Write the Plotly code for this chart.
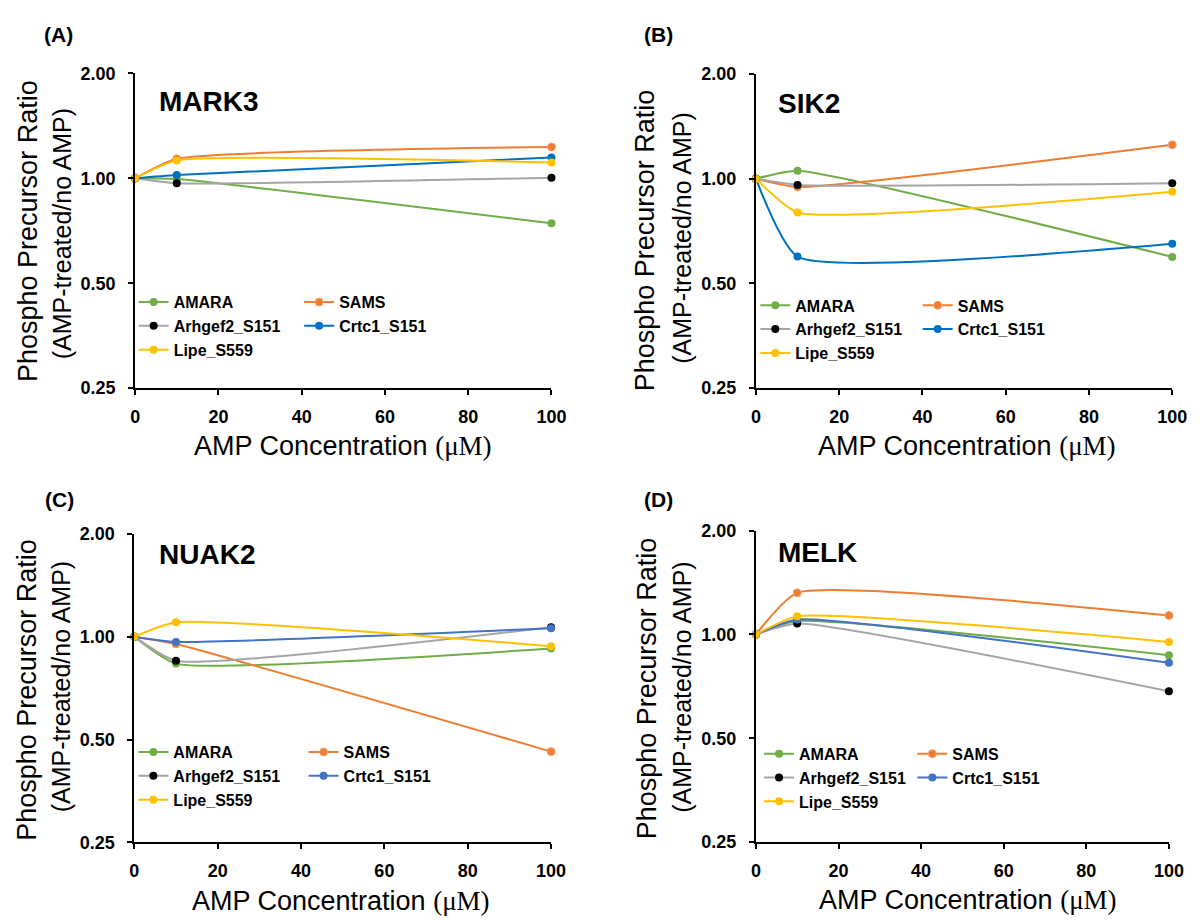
import plotly.graph_objects as go

# ---------------- data ----------------
amp_conc = [0, 10, 100]
series_names = ["AMARA", "SAMS", "Arhgef2_S151", "Crtc1_S151", "Lipe_S559"]
panel_labels = ["(A)", "(B)", "(C)", "(D)"]
kinases = ["MARK3", "SIK2", "NUAK2", "MELK"]

mark3_amara = [1.00, 0.995, 0.743]
mark3_sams = [1.00, 1.138, 1.230]
mark3_arhgef2 = [1.00, 0.968, 1.004]
mark3_crtc1 = [1.00, 1.022, 1.148]
mark3_lipe = [1.00, 1.126, 1.111]

sik2_amara = [1.00, 1.055, 0.596]
sik2_sams = [1.00, 0.947, 1.252]
sik2_arhgef2 = [1.00, 0.960, 0.970]
sik2_crtc1 = [1.00, 0.597, 0.650]
sik2_lipe = [1.00, 0.800, 0.917]

nuak2_amara = [1.00, 0.834, 0.924]
nuak2_sams = [1.00, 0.952, 0.461]
nuak2_arhgef2 = [1.00, 0.850, 1.066]
nuak2_crtc1 = [1.00, 0.965, 1.059]
nuak2_lipe = [1.00, 1.102, 0.938]

melk_amara = [1.00, 1.093, 0.870]
melk_sams = [1.00, 1.320, 1.135]
melk_arhgef2 = [1.00, 1.075, 0.684]
melk_crtc1 = [1.00, 1.105, 0.827]
melk_lipe = [1.00, 1.128, 0.951]

y_tick_vals = [0.25, 0.5, 1.0, 2.0]
y_tick_text = ["0.25", "0.50", "1.00", "2.00"]
x_tick_vals = [0, 20, 40, 60, 80, 100]

panel_data = [
    [mark3_amara, mark3_sams, mark3_arhgef2, mark3_crtc1, mark3_lipe],
    [sik2_amara, sik2_sams, sik2_arhgef2, sik2_crtc1, sik2_lipe],
    [nuak2_amara, nuak2_sams, nuak2_arhgef2, nuak2_crtc1, nuak2_lipe],
    [melk_amara, melk_sams, melk_arhgef2, melk_crtc1, melk_lipe],
]

# ---------------- styling / layout ----------------
W, H = 1200, 920
FONT = "Liberation Sans, Arial, sans-serif"


def px(x):
    return x / W


def py(y):
    return 1 - y / H


line_colors_ab = ["#70AD47", "#ED7D31", "#A5A5A5", "#0070C0", "#FFC000"]
line_colors_cd = ["#70AD47", "#ED7D31", "#A5A5A5", "#4472C4", "#FFC000"]
marker_colors_ab = ["#70AD47", "#ED7D31", "#000000", "#0070C0", "#FFC000"]
marker_colors_cd = ["#70AD47", "#ED7D31", "#000000", "#4472C4", "#FFC000"]

# plot-area rectangles in pixels: (left, right, top, bottom)
panel_rects = [
    (124.2, 547.6, 56.7, 378.3),
    (755.5, 1178.9, 57.3, 378.3),
    (123.4, 547.2, 527.3, 842.7),
    (755.5, 1175.5, 524.0, 842.3),
]
# legend text-start x positions (col1, col2) and first-row centre y
legend_pos = [
    (162.7, 331.0, 290.0),
    (794.9, 960.0, 293.3),
    (162.4, 335.5, 750.0),
    (798.7, 954.6, 751.7),
]
label_pos = [(29, 17), (640, 17), (30, 492), (640, 492)]
kinase_pos = [(146, 85), (776, 87), (146, 548), (776, 546)]
xtitle_pos = [(336, 438), (970, 438), (334, 903), (971, 902)]
ytitle_pos = [((16, 218), (50, 221)), ((643, 227), (680, 225)),
              ((14, 687), (49, 684)), ((645, 685), (680, 684))]

fig = go.Figure()
annotations = []
layout_upd = {}

for p in range(4):
    xa = "x" if p == 0 else f"x{p+1}"
    ya = "y" if p == 0 else f"y{p+1}"
    lc = line_colors_ab if p < 2 else line_colors_cd
    mc = marker_colors_ab if p < 2 else marker_colors_cd
    leg1 = f"legend{2*p+1}" if p > 0 else "legend"
    leg2 = f"legend{2*p+2}"
    for i, name in enumerate(series_names):
        col2 = i in (1, 3)
        fig.add_trace(go.Scatter(
            x=amp_conc, y=panel_data[p][i], name=name,
            mode="lines+markers",
            line=dict(color=lc[i], width=2, shape="spline", smoothing=0.5),
            marker=dict(color=mc[i], size=8,
                        line=dict(width=1, color="#F4A47C") if i == 1 else dict(width=0)),
            xaxis=xa, yaxis=ya, cliponaxis=False,
            legend=leg2 if col2 else leg1,
            showlegend=True,
        ))

    l, r, t, b = panel_rects[p]
    xkey = "xaxis" if p == 0 else f"xaxis{p+1}"
    ykey = "yaxis" if p == 0 else f"yaxis{p+1}"
    layout_upd[xkey] = dict(
        domain=[px(l), px(r)], anchor=ya, range=[0, 100],
        tickvals=x_tick_vals, ticks="outside", ticklen=5, tickwidth=1.5,
        tickcolor="black", showline=True, linewidth=2, linecolor="black",
        showgrid=False, zeroline=False, ticklabelstandoff=6,
        tickfont=dict(family=FONT, size=18, color="black", weight="bold"),
    )
    layout_upd[ykey] = dict(
        domain=[py(b), py(t)], anchor=xa, type="log",
        range=[-0.60206, 0.30103],
        tickvals=y_tick_vals, ticktext=y_tick_text,
        ticks="outside", ticklen=5, tickwidth=1.5, tickcolor="black",
        showline=True, linewidth=2, linecolor="black",
        showgrid=False, zeroline=False, ticklabelstandoff=9,
        tickfont=dict(family=FONT, size=18, color="black", weight="bold"),
    )

    c1x, c2x, row1 = legend_pos[p]
    for key, tx in ((leg1, c1x), (leg2, c2x)):
        layout_upd[key] = dict(
            x=px(tx - 40), xanchor="left", y=py(row1 - 16.9), yanchor="top",
            orientation="v", bgcolor="rgba(0,0,0,0)", borderwidth=0,
            itemwidth=30, tracegroupgap=0,
            font=dict(family=FONT, size=16, color="black", weight="bold"),
        )

    lx, ly = label_pos[p]
    annotations.append(dict(text=f"<b>{panel_labels[p]}</b>", x=px(lx), y=py(ly),
                            xref="paper", yref="paper", xanchor="left", yanchor="middle",
                            showarrow=False, font=dict(family=FONT, size=21, color="black")))
    kx, ky = kinase_pos[p]
    annotations.append(dict(text=f"<b>{kinases[p]}</b>", x=px(kx), y=py(ky),
                            xref="paper", yref="paper", xanchor="left", yanchor="middle",
                            showarrow=False, font=dict(family=FONT, size=28, color="black")))
    tx, ty = xtitle_pos[p]
    annotations.append(dict(
        text="AMP Concentration <span style='font-family:Liberation Serif, Times New Roman, serif'>(μM)</span>",
        x=px(tx), y=py(ty), xref="paper", yref="paper", xanchor="center", yanchor="middle",
        showarrow=False, font=dict(family=FONT, size=27, color="black")))
    (y1x, y1y), (y2x, y2y) = ytitle_pos[p]
    annotations.append(dict(text="Phospho Precursor Ratio", x=px(y1x), y=py(y1y),
                            xref="paper", yref="paper", xanchor="center", yanchor="middle",
                            textangle=-90, showarrow=False,
                            font=dict(family=FONT, size=27, color="black")))
    annotations.append(dict(text="(AMP-treated/no AMP)", x=px(y2x), y=py(y2y),
                            xref="paper", yref="paper", xanchor="center", yanchor="middle",
                            textangle=-90, showarrow=False,
                            font=dict(family=FONT, size=25, color="black")))

fig.update_layout(
    width=W, height=H, margin=dict(l=0, r=0, t=0, b=0),
    paper_bgcolor="white", plot_bgcolor="white",
    annotations=annotations, **layout_upd,
)

fig.write_html("out.html")
